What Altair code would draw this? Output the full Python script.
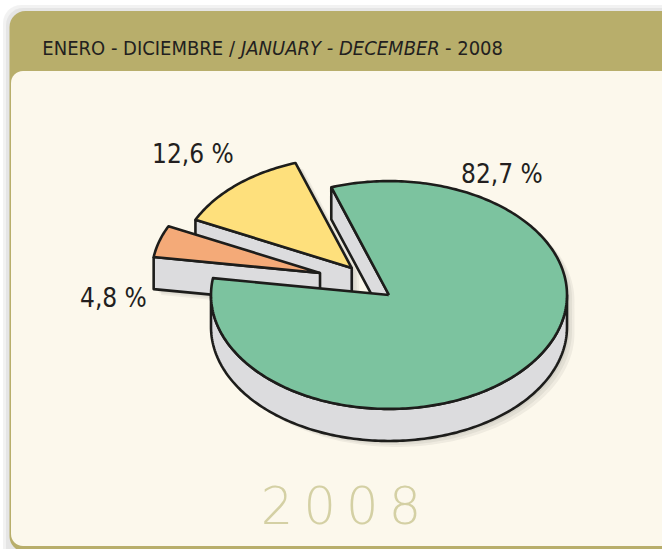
import math
import altair as alt
import pandas as pd

# ---------------- data ----------------
shares = [82.7, 12.6, 4.8]                      # per cent, counter-clockwise from START
slice_colors = ["#7cc39f", "#fee07c", "#f4aa78"]
explode_dist = [0.0, 0.316, 0.433]              # in pie-radius units
explode_dir = [0.0, 131.5, 153.5]               # degrees
radius_scale = [1.0, 0.975, 0.945]              # perspective shrink of far slices
label_text = [f"{v:.1f}".replace(".", ",") + "\u00a0%" for v in shares]
header_parts = ["ENERO - DICIEMBRE /", "JANUARY - DECEMBER", "- 2008"]
footer_year = "2008"

# ---------------- geometry settings ----------------
W, H = 662, 549
START = 171.5        # start angle of first slice (deg)
TILT = 0.64          # vertical squash of the pie
DEPTH = 0.18         # thickness of the pie (radius units)
R_PX = 178.0         # pixels per radius unit
CX, CY = 389.0, 295.0  # pixel position of pie centre
WALL = "#dcdcde"
INK = "#1d1d1b"
FONT = "'DejaVu Sans Condensed', Roboto, sans-serif"

xs = alt.Scale(domain=[(0 - CX) / R_PX, (W - CX) / R_PX], nice=False, zero=False)
ys = alt.Scale(domain=[(CY - H) / R_PX, CY / R_PX], nice=False, zero=False)

total = sum(shares)
slices = []
a = START
for i, v in enumerate(shares):
    span = 360.0 * v / total
    slices.append((i, a, a + span))
    a += span


def arc(ox, oy, r, t0, t1, dy=0.0):
    n = max(2, int(abs(t1 - t0)) + 1)
    pts = []
    for k in range(n + 1):
        t = math.radians(t0 + (t1 - t0) * k / n)
        pts.append((ox + r * math.cos(t), oy + r * math.sin(t) * TILT - dy))
    return pts


geo = {}
order = []
for i, a0, a1 in slices:
    e = explode_dist[i]
    d = math.radians(explode_dir[i])
    ox, oy = e * math.cos(d), e * math.sin(d) * TILT
    r = radius_scale[i]
    apex = (ox, oy)
    walls = []
    for k in range(-1, 3):
        lo, hi = max(a0, 180 + 360 * k), min(a1, 360 + 360 * k)
        if hi > lo:
            top = arc(ox, oy, r, lo, hi)
            bot = arc(ox, oy, r, lo, hi, DEPTH)[::-1]
            walls.append(top + bot + [top[0]])
    r0 = arc(ox, oy, r, a0, a0)[0]
    r1 = arc(ox, oy, r, a1, a1)[0]
    if math.cos(math.radians(a0)) > 0:
        walls.append([apex, r0, (r0[0], r0[1] - DEPTH), (apex[0], apex[1] - DEPTH), apex])
    if math.cos(math.radians(a1)) < 0:
        walls.append([r1, apex, (apex[0], apex[1] - DEPTH), (r1[0], r1[1] - DEPTH), r1])
    top = [apex] + arc(ox, oy, r, a0, a1) + [apex]
    geo[i] = (walls, top)
    order.append((oy, i))

order.sort(reverse=True)  # back slices first


def frame(polys, tag, dx=0.0, dy=0.0):
    rows = []
    for p, poly in enumerate(polys):
        for k, (x, y) in enumerate(poly):
            rows.append({"poly": f"{tag}{p:02d}", "idx": k, "x": x + dx, "y": y + dy})
    return pd.DataFrame(rows)


def poly_layer(df, fill, stroke=INK, opacity=1.0):
    return alt.Chart(df).mark_line(
        fill=fill, stroke=stroke, strokeWidth=2.6, strokeJoin="round", opacity=opacity
    ).encode(
        x=alt.X("x:Q", scale=xs, axis=None),
        y=alt.Y("y:Q", scale=ys, axis=None),
        detail="poly:N",
        order="idx:Q",
    )


layers = []
# card decoration
layers.append(alt.Chart().mark_rect(cornerRadius=18, fill="#000000", opacity=0.05).encode(
    x=alt.value(3), x2=alt.value(720), y=alt.value(5), y2=alt.value(620)))
layers.append(alt.Chart().mark_rect(cornerRadius=17, fill="#000000", opacity=0.05).encode(
    x=alt.value(6), x2=alt.value(720), y=alt.value(8), y2=alt.value(620)))
layers.append(alt.Chart().mark_rect(cornerRadius=16, fill="#b8ae6b").encode(
    x=alt.value(9.5), x2=alt.value(720), y=alt.value(11), y2=alt.value(552)))
layers.append(alt.Chart().mark_rect(cornerRadius=12, fill="#fcf8ec").encode(
    x=alt.value(11), x2=alt.value(720), y=alt.value(71), y2=alt.value(546)))

# soft shadow of the pie
for step in (1, 2, 3):
    sh = []
    for _, i in order:
        walls, top = geo[i]
        sh.extend(walls + [top])
    layers.append(alt.Chart(frame(sh, f"s{step}", 2.5 * step / R_PX, -2.0 * step / R_PX)).mark_line(
        fill="#000000", strokeWidth=0, opacity=0.05).encode(
        x=alt.X("x:Q", scale=xs, axis=None), y=alt.Y("y:Q", scale=ys, axis=None),
        detail="poly:N", order="idx:Q"))

# pie
for _, i in order:
    walls, top = geo[i]
    if walls:
        layers.append(poly_layer(frame(walls, f"w{i}"), WALL))
    layers.append(poly_layer(frame([top], f"t{i}"), slice_colors[i]))

# header text
HS = 20
layers.append(alt.Chart(pd.DataFrame({"t": [header_parts[0]]})).mark_text(
    font=FONT, fontSize=HS, color="#231f20", align="right", baseline="alphabetic").encode(
    text="t:N", x=alt.value(235), y=alt.value(55)))
layers.append(alt.Chart(pd.DataFrame({"t": [header_parts[1]]})).mark_text(
    font=FONT, fontSize=HS, fontStyle="italic", color="#231f20", align="left", baseline="alphabetic").encode(
    text="t:N", x=alt.value(241), y=alt.value(55)))
layers.append(alt.Chart(pd.DataFrame({"t": [header_parts[2]]})).mark_text(
    font=FONT, fontSize=HS, color="#231f20", align="left", baseline="alphabetic").encode(
    text="t:N", x=alt.value(445), y=alt.value(55)))

# percentage labels
label_pos = [(461, 183), (152, 163), (80, 307)]
for t, (px, py) in zip(label_text, label_pos):
    layers.append(alt.Chart(pd.DataFrame({"t": [t]})).mark_text(
        font=FONT, fontSize=26, color="#231f20", align="left", baseline="alphabetic").encode(
        text="t:N", x=alt.value(px), y=alt.value(py)))

# big year
layers.append(alt.Chart(pd.DataFrame({"t": ["\u2009".join(footer_year)]})).mark_text(
    font="DejaVu Sans", fontSize=51, fontWeight=200, color="#d4d0a4", align="center",
    baseline="alphabetic").encode(text="t:N", x=alt.value(341), y=alt.value(524)))

chart = alt.layer(*layers).properties(
    width=W, height=H, padding=0, autosize=alt.AutoSizeParams(type="none"),
    background="white",
).configure_view(stroke=None)

chart.save("out.html", embed_options={"renderer": "svg", "actions": False})
